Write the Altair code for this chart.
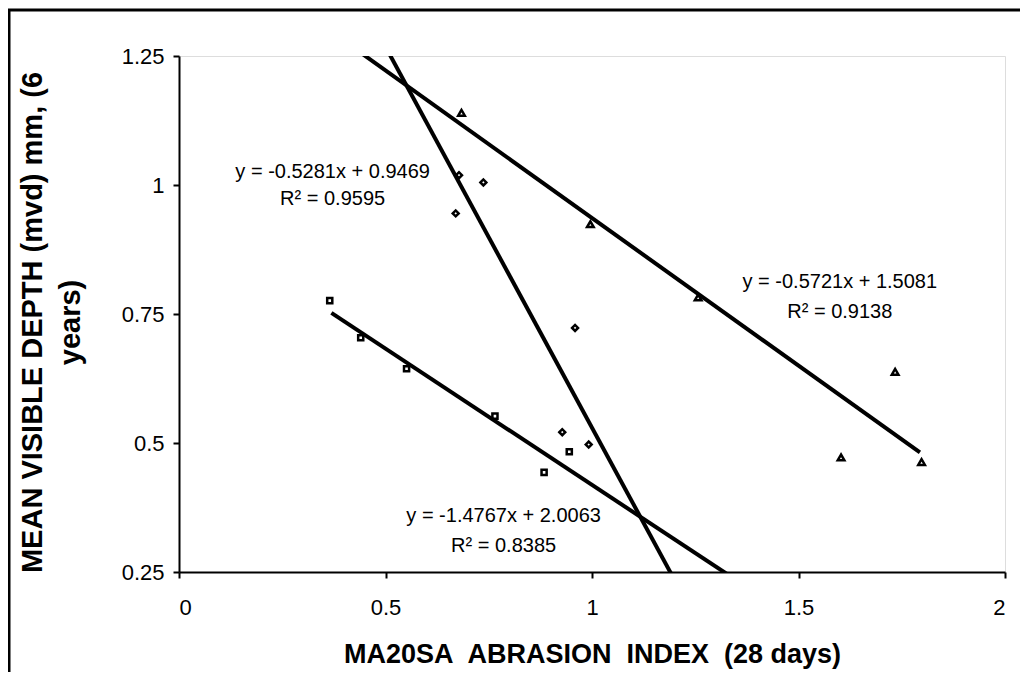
import altair as alt
import pandas as pd

FONT = "Liberation Sans, Arial, sans-serif"

# ---- data ----
series_names = ["squares", "diamonds", "triangles"]
shapes = ["square", "diamond", "triangle-up"]

sq_x = [0.365, 0.440, 0.551, 0.765, 0.884, 0.945]
sq_y = [0.776, 0.704, 0.644, 0.552, 0.443, 0.483]
di_x = [0.670, 0.678, 0.737, 0.928, 0.959, 0.992]
di_y = [0.945, 1.019, 1.005, 0.521, 0.723, 0.497]
tr_x = [0.684, 0.996, 1.257, 1.603, 1.734, 1.798]
tr_y = [1.140, 0.924, 0.782, 0.472, 0.638, 0.463]

# trendline equations as printed on the chart
slopes = [-0.5281, -1.4767, -0.5721]
intercepts = [0.9469, 2.0063, 1.5081]
line_x_start = [0.369, 0.40, 0.40]
line_x_end = [1.40, 1.30, 1.794]

ann_text = ["y = -0.5281x + 0.9469", "R\u00b2 = 0.9595",
            "y = -0.5721x + 1.5081", "R\u00b2 = 0.9138",
            "y = -1.4767x + 2.0063", "R\u00b2 = 0.8385"]
ann_x = [0.372, 0.372, 1.600, 1.600, 0.786, 0.786]
ann_y = [1.013, 0.961, 0.800, 0.743, 0.347, 0.289]

x_ticks = [0, 0.5, 1, 1.5, 2]
y_ticks = [0.25, 0.5, 0.75, 1, 1.25]

x_title = "MA20SA\u00a0 ABRASION\u00a0 INDEX\u00a0 (28 days)"
y_title = ["MEAN VISIBLE DEPTH (mvd) mm, (6", "years)"]

# ---- tables ----
rows = []
for name, xs, ys in zip(series_names, [sq_x, di_x, tr_x], [sq_y, di_y, tr_y]):
    for a, b in zip(xs, ys):
        rows.append({"x": a, "y": b, "series": name})
pts = pd.DataFrame(rows)

lrows = []
for name, m, c, x0, x1 in zip(series_names, slopes, intercepts, line_x_start, line_x_end):
    for xv in (x0, x1):
        lrows.append({"x": xv, "y": m * xv + c, "series": name})
lines = pd.DataFrame(lrows)

ann = pd.DataFrame({"x": ann_x, "y": ann_y, "text": ann_text})

xs = alt.Scale(domain=[0, 2], nice=False, zero=False)
ys = alt.Scale(domain=[0.25, 1.25], nice=False, zero=False)

x_axis = alt.Axis(values=x_ticks, labelExpr="format(datum.value, '~g')", grid=False,
                  title=x_title, titleFontSize=27, titleFontWeight="bold", titleFont=FONT,
                  titleY=90, titleBaseline="alphabetic", titleColor="black",
                  labelFontSize=22, labelFont=FONT, labelColor="black", labelPadding=19,
                  tickSize=6, tickWidth=2, tickColor="black", domainColor="black", domainWidth=2)
y_axis = alt.Axis(values=y_ticks, labelExpr="format(datum.value, '~g')", grid=False,
                  title=y_title, titleFontSize=29, titleFontWeight="bold", titleFont=FONT,
                  titleX=-138, titleY=266, titleAngle=270, titleAlign="center",
                  titleBaseline="alphabetic", titleLineHeight=38, titleColor="black",
                  labelFontSize=22, labelFont=FONT, labelColor="black", labelPadding=9,
                  tickSize=6, tickWidth=2, tickColor="black", domainColor="black", domainWidth=2)

points = alt.Chart(pts).mark_point(filled=False, color="black", strokeWidth=2.5, opacity=1).encode(
    x=alt.X("x:Q", scale=xs, axis=x_axis),
    y=alt.Y("y:Q", scale=ys, axis=y_axis),
    shape=alt.Shape("series:N", scale=alt.Scale(domain=series_names, range=shapes), legend=None),
    size=alt.Size("series:N", scale=alt.Scale(domain=series_names, range=[26, 44, 40]), legend=None),
)

trend = alt.Chart(lines).mark_line(color="black", strokeWidth=4, clip=True, strokeCap="butt").encode(
    x=alt.X("x:Q", scale=xs),
    y=alt.Y("y:Q", scale=ys),
    detail="series:N",
)

labels = alt.Chart(ann).mark_text(align="center", baseline="alphabetic", fontSize=20,
                                  font=FONT, color="black").encode(
    x=alt.X("x:Q", scale=xs),
    y=alt.Y("y:Q", scale=ys),
    text="text:N",
)

frame = alt.Chart(pd.DataFrame({"a": [0]})).mark_rect(
    filled=False, stroke="black", strokeWidth=3, clip=False).encode(
    x=alt.value(-170), x2=alt.value(1200), y=alt.value(-46), y2=alt.value(900))

chart = alt.layer(frame, points, trend, labels).properties(
    width=826, height=516,
    padding={"left": 171, "top": 48, "right": 15, "bottom": 100},
    autosize=alt.AutoSizeParams(type="none"),
).configure_view(stroke="black", strokeWidth=2.5).configure(font=FONT)

chart.save("out.html", embed_options={"renderer": "svg", "actions": False})
